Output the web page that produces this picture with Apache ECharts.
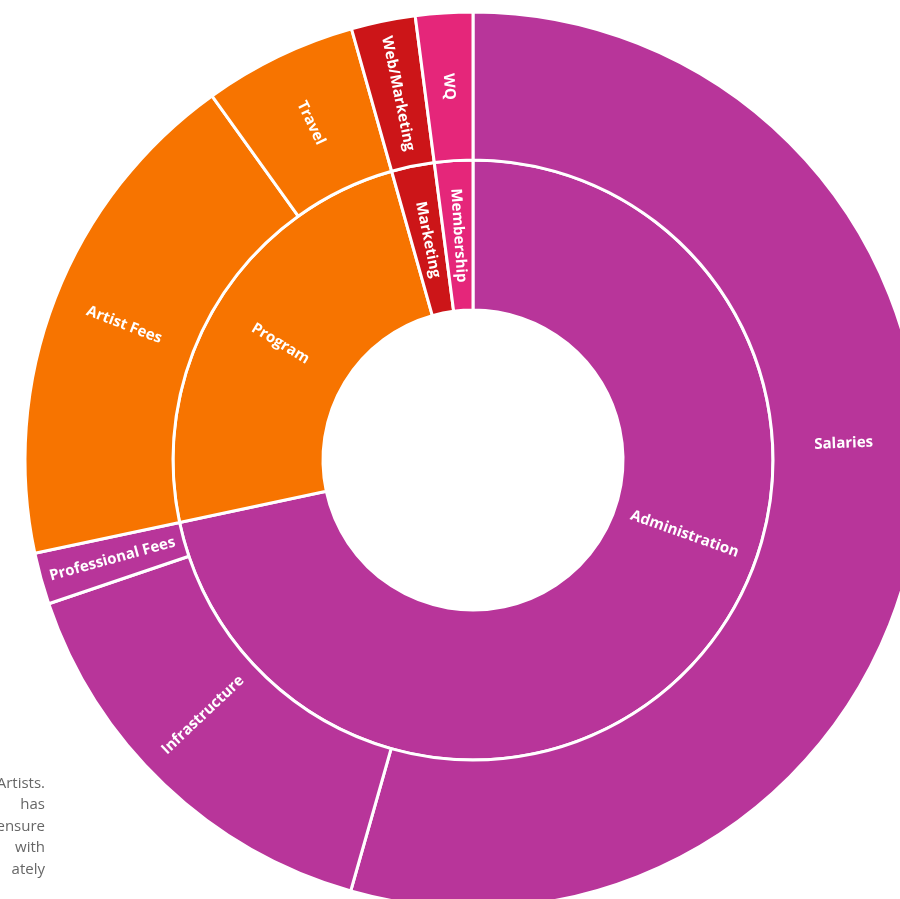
<!DOCTYPE html>
<html>
<head>
<meta charset="utf-8">
<script src="https://cdn.jsdelivr.net/npm/echarts@6/dist/echarts.min.js"></script>
<style>
html,body{margin:0;padding:0;background:#fff;}
#chart{width:900px;height:899px;}
</style>
</head>
<body>
<div id="chart"></div>
<script>
// Budget breakdown (percent of total)
const groups = ['Administration', 'Program', 'Marketing', 'Membership'];
const groupColors = ['#B8359A', '#F77400', '#CC1518', '#E5267A'];
const childNames = [
  ['Salaries', 'Infrastructure', 'Professional Fees'],
  ['Artist Fees', 'Travel'],
  ['Web/Marketing'],
  ['WQ']
];
const childValues = [
  [54.4, 15.4, 1.86],
  [18.44, 5.53],
  [2.31],
  [2.06]
];
const sideTextLines = ['Artists.', 'has', 'ensure', 'with', 'ately'];

// label placement tweaks (styling only): the original places some labels
// off their sector's mid-angle. [rotate, shiftRight, shiftUp] in label frame.
const labelTweaks = {
  'Administration': [-19.5, 12, 76],
  'Salaries': [2.3, 3, 68],
  'Infrastructure': [43.4, 2, 20]
};

const labelFont = '"Open Sans", sans-serif';

function tweakLabel(name) {
  const t = labelTweaks[name];
  if (!t) return undefined;
  return {
    rotate: t[0],
    formatter: '{s| }{t|' + name + '}\n{g| }',
    rich: {
      s: { width: t[1] * 2, fontSize: 15 },
      t: { fontSize: 15, fontWeight: 'bold', color: '#fff', fontFamily: labelFont },
      g: { lineHeight: t[2] * 2, fontSize: 1 }
    }
  };
}

function node(name, extra) {
  const o = Object.assign({ name: name }, extra);
  const l = tweakLabel(name);
  if (l) o.label = l;
  return o;
}

const data = groups.map((g, i) => node(g, {
  itemStyle: { color: groupColors[i] },
  children: childNames[i].map((c, j) => node(c, {
    value: childValues[i][j],
    itemStyle: { color: groupColors[i] }
  }))
}));

const chart = echarts.init(document.getElementById('chart'), null, { renderer: 'canvas' });

const graphics = sideTextLines.map((t, i) => ({
  type: 'text',
  right: 855,
  top: 776 + i * 21.5,
  z: -1,
  style: {
    text: t,
    fill: '#666',
    font: '15px "Open Sans", sans-serif',
    textAlign: 'right'
  }
}));

chart.setOption({
  animation: false,
  graphic: graphics,
  series: [{
    type: 'sunburst',
    center: [473, 460],
    sort: null,
    nodeClick: false,
    emphasis: { disabled: true },
    data: data,
    itemStyle: { borderColor: '#fff', borderWidth: 3 },
    label: {
      rotate: 'radial',
      color: '#fff',
      fontFamily: labelFont,
      fontWeight: 'bold',
      fontSize: 15
    },
    levels: [
      {},
      { r0: 150, r: 300 },
      { r0: 300, r: 448 }
    ]
  }]
});
</script>
</body>
</html>
